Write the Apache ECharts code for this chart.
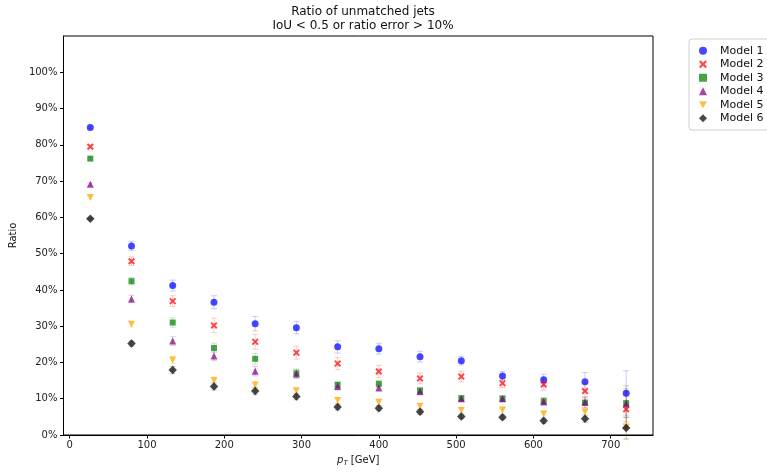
<!DOCTYPE html>
<html>
<head>
<meta charset="utf-8">
<title>Ratio of unmatched jets</title>
<script src="https://cdn.jsdelivr.net/npm/echarts@6.0.0/dist/echarts.min.js"></script>
<style>
    html, body { margin: 0; padding: 0; background: #fff; }
    #main { width: 767px; height: 472px; }
</style>
</head>
<body>
<div id="main"></div>
<script>
// pT bin centres [GeV]
var ptBins = [26.7, 80, 133.3, 186.7, 240, 293.3, 346.7, 400, 453.3, 506.7, 560, 613.3, 666.7, 720];

// unmatched ratio per model
var model1 = [0.848, 0.521, 0.412, 0.366, 0.307, 0.296, 0.243, 0.238, 0.216, 0.205, 0.163, 0.152, 0.147, 0.115];
var model2 = [0.795, 0.479, 0.369, 0.302, 0.257, 0.227, 0.197, 0.175, 0.156, 0.161, 0.143, 0.139, 0.121, 0.071];
var model3 = [0.762, 0.424, 0.310, 0.240, 0.210, 0.170, 0.138, 0.141, 0.122, 0.101, 0.100, 0.093, 0.089, 0.088];
var model4 = [0.691, 0.375, 0.259, 0.218, 0.176, 0.168, 0.134, 0.130, 0.120, 0.100, 0.100, 0.092, 0.090, 0.086];
var model5 = [0.655, 0.305, 0.207, 0.150, 0.138, 0.122, 0.095, 0.090, 0.079, 0.068, 0.069, 0.058, 0.063, 0.022];
var model6 = [0.596, 0.252, 0.179, 0.134, 0.121, 0.106, 0.077, 0.074, 0.064, 0.051, 0.049, 0.039, 0.045, 0.019];

// error bar half-heights
var err1 = [0.004, 0.012, 0.015, 0.018, 0.020, 0.017, 0.017, 0.015, 0.015, 0.012, 0.012, 0.016, 0.025, 0.062];
var err2 = [0.004, 0.012, 0.015, 0.020, 0.020, 0.018, 0.017, 0.017, 0.015, 0.015, 0.012, 0.015, 0.022, 0.050];
var err3 = [0.004, 0.010, 0.013, 0.013, 0.015, 0.012, 0.010, 0.010, 0.010, 0.008, 0.008, 0.010, 0.015, 0.040];
var err4 = [0.004, 0.010, 0.012, 0.013, 0.013, 0.012, 0.010, 0.010, 0.010, 0.008, 0.008, 0.010, 0.015, 0.050];
var err5 = [0.004, 0.008, 0.010, 0.010, 0.010, 0.010, 0.008, 0.008, 0.008, 0.007, 0.007, 0.008, 0.012, 0.035];
var err6 = [0.003, 0.007, 0.010, 0.010, 0.010, 0.009, 0.008, 0.007, 0.007, 0.006, 0.006, 0.007, 0.010, 0.030];

var modelNames = ['Model 1', 'Model 2', 'Model 3', 'Model 4', 'Model 5', 'Model 6'];
var xTicks = [0, 100, 200, 300, 400, 500, 600, 700];
var yTicks = [0, 0.1, 0.2, 0.3, 0.4, 0.5, 0.6, 0.7, 0.8, 0.9, 1.0];

var FONT = 'DejaVu Sans';
var CROSS = 'path://M0,2 L2,0 L5,3 L8,0 L10,2 L7,5 L10,8 L8,10 L5,7 L2,10 L0,8 L3,5 Z';
var TRI_DOWN = 'path://M0,0 L10,0 L5,9 Z';

function DrawChart() {
    var myChart = echarts.init(document.getElementById('main'));

    var values = [model1, model2, model3, model4, model5, model6];
    var errors = [err1, err2, err3, err4, err5, err6];
    var colors = ['#0000ff', '#ff0000', '#008000', '#800080', '#ffa500', '#000000'];
    var symbols = ['circle', CROSS, 'rect', 'triangle', TRI_DOWN, 'diamond'];
    var sizes = [7, 7, 6, 7, 7, [8.5, 8.5]];

    var series = [];
    for (var m = 0; m < values.length; m++) {
        var pts = [];
        var bars = [];
        for (var i = 0; i < ptBins.length; i++) {
            pts.push([ptBins[i], values[m][i]]);
            bars.push([ptBins[i], values[m][i] - errors[m][i], values[m][i] + errors[m][i]]);
        }
        // error bars (light, with caps)
        series.push({
            name: modelNames[m] + ' err',
            type: 'custom',
            z: 1,
            silent: true,
            data: bars,
            renderItem: (function (col) {
                return function (params, api) {
                    var lo = api.coord([api.value(0), api.value(1)]);
                    var hi = api.coord([api.value(0), api.value(2)]);
                    var style = { stroke: col, opacity: 0.2, lineWidth: 1 };
                    return {
                        type: 'group',
                        children: [
                            { type: 'line', shape: { x1: lo[0], y1: lo[1], x2: hi[0], y2: hi[1] }, style: style },
                            { type: 'line', shape: { x1: lo[0] - 3, y1: lo[1], x2: lo[0] + 3, y2: lo[1] }, style: style },
                            { type: 'line', shape: { x1: hi[0] - 3, y1: hi[1], x2: hi[0] + 3, y2: hi[1] }, style: style }
                        ]
                    };
                };
            })(colors[m]),
            encode: { x: 0, y: [1, 2] }
        });
        series.push({
            name: modelNames[m],
            type: 'scatter',
            z: 2,
            symbol: symbols[m],
            symbolSize: sizes[m],
            itemStyle: { color: colors[m], opacity: 0.72 },
            data: pts
        });
    }

    var Option = {
        animation: false,
        backgroundColor: '#fff',
        title: {
            text: 'Ratio of unmatched jets\nIoU < 0.5 or ratio error > 10%',
            left: 358,
            top: 0,
            textAlign: 'center',
            textStyle: { fontFamily: FONT, fontSize: 12, fontWeight: 'normal', color: '#111', lineHeight: 14 }
        },
        legend: {
            orient: 'vertical',
            left: 689,
            top: 39,
            data: modelNames,
            itemWidth: 8,
            itemHeight: 8,
            itemGap: 0,
            padding: [5, 10, 5, 10],
            borderColor: '#d0d0d0',
            borderWidth: 1,
            borderRadius: 3,
            textStyle: { fontFamily: FONT, fontSize: 11, color: '#111', lineHeight: 13.5, padding: [0, 0, 0, 8] }
        },
        grid: {
            left: 63,
            top: 36,
            width: 590,
            height: 402,
            show: true,
            borderColor: '#000',
            borderWidth: 1
        },
        xAxis: {
            type: 'value',
            min: -8,
            max: 754.7,
            name: '{i|p}{s|T} [GeV]',
            nameLocation: 'middle',
            nameGap: 19,
            nameTextStyle: {
                fontFamily: FONT, fontSize: 10, color: '#111',
                rich: {
                    i: { fontFamily: FONT, fontStyle: 'italic', fontSize: 10, color: '#111' },
                    s: { fontFamily: FONT, fontStyle: 'italic', fontSize: 7, color: '#111', verticalAlign: 'bottom', padding: [6, 0, 0, 0] }
                }
            },
            splitLine: { show: false },
            axisLine: { show: true, onZero: false, lineStyle: { color: '#000' } },
            axisTick: { show: true, customValues: xTicks, length: 3.5, lineStyle: { color: '#000' } },
            axisLabel: { customValues: xTicks, fontFamily: FONT, fontSize: 10, color: '#222', margin: 5 }
        },
        yAxis: {
            type: 'value',
            min: 0,
            max: 1.1,
            name: 'Ratio',
            nameLocation: 'middle',
            nameRotate: 90,
            nameGap: 41,
            nameTextStyle: { fontFamily: FONT, fontSize: 10, color: '#111' },
            splitLine: { show: false },
            axisLine: { show: true, onZero: false, lineStyle: { color: '#000' } },
            axisTick: { show: true, customValues: yTicks, length: 3.5, lineStyle: { color: '#000' } },
            axisLabel: {
                customValues: yTicks,
                fontFamily: FONT, fontSize: 10, color: '#222', margin: 6,
                formatter: function (v) { return Math.round(v * 100) + '%'; }
            }
        },
        series: series
    };

    myChart.setOption(Option);
}

DrawChart();
</script>
</body>
</html>
